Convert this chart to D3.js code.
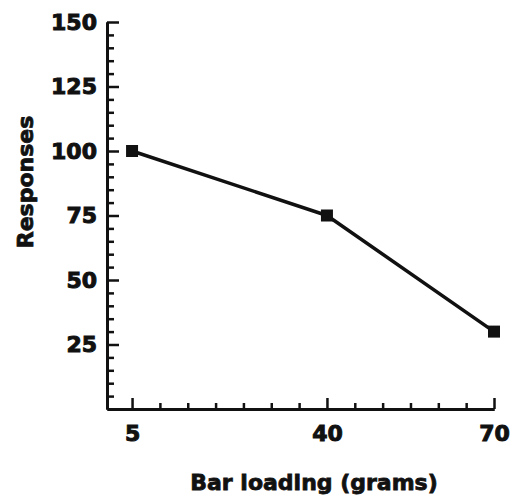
<!DOCTYPE html>
<html>
<head>
<meta charset="utf-8">
<script src="https://cdn.jsdelivr.net/npm/d3@7"></script>
<style>
  html, body { margin: 0; padding: 0; background: #fff; }
  svg { display: block; }
  text { font-family: "DejaVu Sans", sans-serif; font-weight: bold; fill: #111; }
</style>
</head>
<body>
<svg id="chart" width="513" height="497"></svg>
<script>
// Bar loading (grams) and the number of responses at each load
const loadings = [5, 40, 70];
const responses = [100, 75, 30];

// Tick values
const xMajorTicks = [5, 40, 70];
const xMinorTicks = [10, 15, 20, 25, 30, 35, 45, 50, 55, 60, 65];
const yMajorTicks = [25, 50, 75, 100, 125, 150];
const yMinorTicks = d3.range(5, 150, 5).filter(v => v % 25 !== 0);

const xTitle = "Bar loading (grams)";
const yTitle = "Responses";

const svg = d3.select("#chart");
const ink = "#111";

const x = d3.scaleLinear().domain([0.5, 70]).range([107, 494]);
const y = d3.scaleLinear().domain([0, 150]).range([409, 22]);

// Y axis: ticks point inward (to the right)
svg.append("g")
  .attr("transform", `translate(${x(0.5)},0)`)
  .call(d3.axisLeft(y).tickValues(yMinorTicks).tickSize(-7).tickSizeOuter(0).tickFormat(""));
svg.append("g")
  .attr("transform", `translate(${x(0.5)},0)`)
  .call(d3.axisLeft(y).tickValues(yMajorTicks).tickSize(-12).tickSizeOuter(0).tickPadding(10));

// X axis: ticks point inward (upward)
svg.append("g")
  .attr("transform", `translate(0,${y(0)})`)
  .call(d3.axisBottom(x).tickValues(xMinorTicks).tickSize(-6).tickSizeOuter(0).tickFormat(""));
svg.append("g")
  .attr("transform", `translate(0,${y(0)})`)
  .call(d3.axisBottom(x).tickValues(xMajorTicks).tickSize(-11).tickSizeOuter(0).tickPadding(16));

svg.selectAll(".domain").attr("stroke", ink).attr("stroke-width", 3);
svg.selectAll(".tick line").attr("stroke", ink).attr("stroke-width", 2.5);
svg.selectAll(".tick text")
  .attr("font-family", "DejaVu Sans, sans-serif")
  .attr("font-weight", "bold")
  .attr("font-size", 22)
  .attr("fill", ink)
  .attr("stroke", ink)
  .attr("stroke-width", 1);

// Axis titles
svg.append("text")
  .attr("x", 314).attr("y", 490)
  .attr("text-anchor", "middle")
  .attr("font-size", 22)
  .attr("stroke", ink)
  .attr("stroke-width", 0.8)
  .text(xTitle);

svg.append("text")
  .attr("transform", "translate(33,182) rotate(-90)")
  .attr("text-anchor", "middle")
  .attr("font-size", 22)
  .attr("stroke", ink)
  .attr("stroke-width", 0.8)
  .text(yTitle);

// Series
const points = loadings.map((d, i) => ({ x: d, y: responses[i] }));

svg.append("path")
  .datum(points)
  .attr("fill", "none")
  .attr("stroke", ink)
  .attr("stroke-width", 3.5)
  .attr("stroke-linejoin", "round")
  .attr("d", d3.line().x(d => x(d.x)).y(d => y(d.y)));

const s = 12;
svg.selectAll("rect.marker")
  .data(points)
  .join("rect")
  .attr("class", "marker")
  .attr("x", d => x(d.x) - s / 2)
  .attr("y", d => y(d.y) - s / 2)
  .attr("width", s)
  .attr("height", s)
  .attr("fill", ink);
</script>
</body>
</html>
